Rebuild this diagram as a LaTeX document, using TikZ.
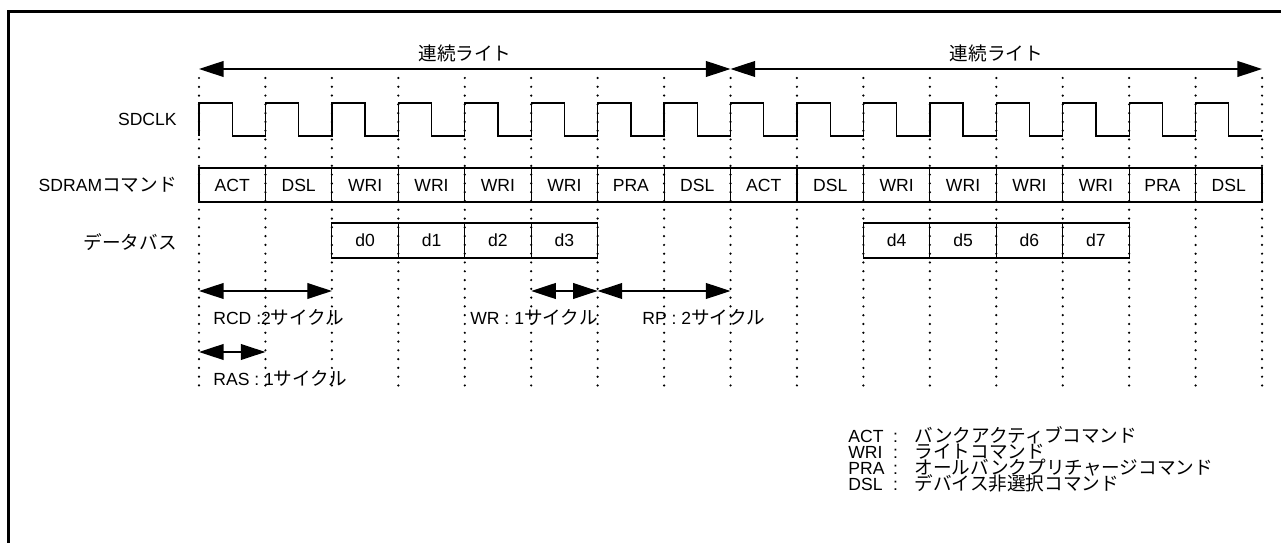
\documentclass[tikz,border=0pt]{standalone}
\usepackage{fontspec}
\setmainfont{Liberation Sans}
\newfontfamily\jp[Scale=1.06]{Noto Sans CJK JP}
\usetikzlibrary{arrows.meta, positioning, calc}

\begin{document}
\begin{tikzpicture}[
  x=0.02cm, y=-0.02cm,
  font=\fontsize{10pt}{12pt}\selectfont,
  frame/.style={line width=1.7pt},
  gridline/.style={line width=1.4pt, line cap=round, dash pattern=on 0pt off 5pt},
  wave/.style={line width=0.75pt},
  cmdcell/.style={draw, line width=0.65pt, inner sep=0pt,
                  minimum width=1.3288cm, minimum height=0.68cm},
  datcell/.style={cmdcell, minimum height=0.70cm},
  arr/.style={arrows={Triangle[length=14pt,width=9pt]-Triangle[length=14pt,width=9pt]},
              line width=0.75pt},
  sig/.style={anchor=east, inner sep=0pt},
  lbl/.style={anchor=west, inner sep=0pt},
  lgd/.style={anchor=base west, inner sep=0pt},
]
  \useasboundingbox (0,0) rectangle (1281,543);
  \draw[frame] (8.5,543) -- (8.5,11.5) -- (1281,11.5);

  \foreach \i in {0,...,16} {
    \coordinate (top\i) at ({199+66.44*\i},78);
    \coordinate (bot\i) at ({199+66.44*\i},388);
    \draw[gridline] (top\i) -- (bot\i);
  }

  \node[sig] (clk) at (177,119) {SDCLK};
  \node[sig] (cmd) at (177,185) {SDRAM{\jp コマンド}};
  \node[sig] (bus) at (177,242) {{\jp データバス}};

  \draw[wave] (199,136) foreach \i in {0,...,15} {
    -- ++(0,-33) -- ++(33.22,0) -- ++(0,33) -- ++(33.22,0) };

  \foreach \c [count=\i from 0] in {ACT,DSL,WRI,WRI,WRI,WRI,PRA,DSL,ACT,DSL,WRI,WRI,WRI,WRI,PRA,DSL}
    \node[cmdcell] (cmd\i) at ({232.22+66.44*\i},185) {\c};

  \foreach \d [count=\i from 0] in {0,1,2,3}
    \node[datcell] (dat\d) at ({365.1+66.44*\i},240.5) {d\d};
  \foreach \d [count=\i from 0] in {4,5,6,7}
    \node[datcell] (dat\d) at ({896.6+66.44*\i},240.5) {d\d};

  \coordinate (burstS) at (199,69);
  \coordinate (burstM) at (730.5,69);
  \coordinate (burstE) at (1262,69);
  \draw[arr] (burstS) -- (burstM);
  \draw[arr] (burstM) -- (burstE);
  \node (burst1) at (465,53) {\jp 連続ライト};
  \node (burst2) at (996.5,53) {\jp 連続ライト};

  \coordinate (rcdS) at (199,291);
  \coordinate (rcdE) at (331.9,291);
  \coordinate (rasS) at (199,352);
  \coordinate (rasE) at (265.4,352);
  \coordinate (wrS) at (531.2,291);
  \coordinate (wrE) at (597.6,291);
  \coordinate (rpE) at (730.5,291);
  \draw[arr] (rcdS) -- (rcdE);
  \draw[arr] (rasS) -- (rasE);
  \draw[arr] (wrS) -- (wrE);
  \draw[arr] (wrE) -- (rpE);

  \node[lbl] (rcd) at (213,317) {RCD :2{\jp サイクル}};
  \node[lbl] (ras) at (213,378) {RAS : 1{\jp サイクル}};
  \node[lbl] (wr) at (470,317) {WR : 1{\jp サイクル}};
  \node[lbl] (rp) at (642,317) {RP : 2{\jp サイクル}};

  \foreach \k/\t [count=\n from 0] in {ACT/バンクアクティブコマンド, WRI/ライトコマンド,
      PRA/オールバンクプリチャージコマンド, DSL/デバイス非選択コマンド}
    \node[lgd] (lgd\k) at (848,{443+16*\n})
      {\makebox[20.5pt][l]{\k}\hspace{5pt}:\hspace{9.5pt}{\jp\t}};
\end{tikzpicture}
\end{document}
